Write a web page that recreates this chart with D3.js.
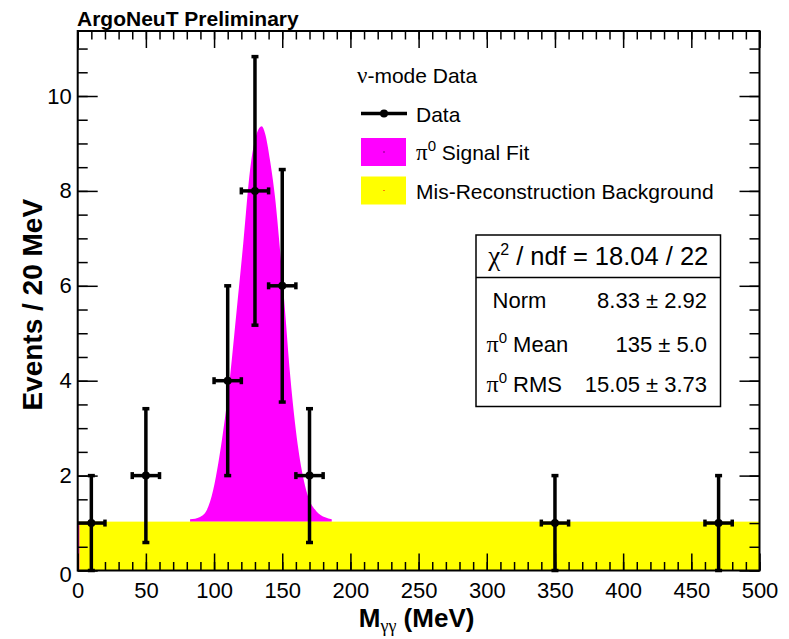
<!DOCTYPE html>
<html>
<head>
<meta charset="utf-8">
<script src="https://cdn.jsdelivr.net/npm/d3@7"></script>
<style>
  body { margin: 0; background: #fff; }
  svg { display: block; font-family: "Liberation Sans", Arial, Helvetica, sans-serif; }
</style>
</head>
<body>
<div id="chart"></div>
<script>
'use strict';

// ------------------------------------
// DATA
// ------------------------------------
const binCenters = [10, 50, 110, 130, 150, 170, 350, 470];
const counts     = [1, 2, 4, 8, 6, 2, 1, 1];
const errors     = [1, 1.41, 2, 2.83, 2.45, 1.41, 1, 1];
const binHalf    = 10;

const bgLevel = 1.03;   // mis-reconstruction background
const edgeSliver = 1.2; // thin magenta strip at the left edge

// signal fit curve (background + pi0 peak)
const fitX = [82.4, 89.7, 94.6, 99.4, 103.1, 106.8, 111.7, 116.6, 121.4, 126.4, 131.3, 134.9,
              137.4, 141.0, 144.7, 148.4, 152.0, 155.7, 159.4, 164.3, 169.1, 175.3, 181.4, 186.3];
const fitY = [1.08, 1.13, 1.27, 1.70, 2.26, 2.96, 4.08, 5.49, 6.89, 8.44, 9.21, 9.36,
              9.21, 8.65, 7.87, 6.75, 5.49, 4.15, 3.10, 2.12, 1.55, 1.24, 1.12, 1.08];

const xMajor = d3.range(0, 501, 50);
const xMinor = d3.range(0, 501, 10);
const yMajor = [0, 2, 4, 6, 8, 10];
const yMinor = d3.range(0, 11.3, 0.5);

const legendTitle = "-mode Data";
const legendItems = ["Data", "Signal Fit", "Mis-Reconstruction Background"];

const statNames  = ["\u00a0Norm", "Mean", "RMS"];
const statValues = ["8.33 \u00b1 2.92", "135 \u00b1 5.0", "15.05 \u00b1 3.73"];

// ------------------------------------
// SETUP
// ------------------------------------
const width = 789;
const height = 639;
const frame = { left: 77.7, right: 759.5, top: 31, bottom: 570.5 };

const x = d3.scaleLinear().domain([0, 500]).range([frame.left, frame.right]);
const y = d3.scaleLinear().domain([0, 11.37]).range([frame.bottom, frame.top]);

const svg = d3.select("#chart").append("svg")
  .attr("width", width)
  .attr("height", height);

svg.append("rect").attr("width", width).attr("height", height).attr("fill", "#fff");

// ------------------------------------
// FILLS
// ------------------------------------
const fitPts = fitX.map((v, i) => ({ x: v, y: fitY[i] }));

svg.append("path")
  .datum(fitPts)
  .attr("fill", "#ff00ff")
  .attr("d", d3.area()
    .x(d => x(d.x))
    .y0(y(bgLevel))
    .y1(d => y(d.y))
    .curve(d3.curveMonotoneX));

svg.append("rect")
  .attr("x", x(0))
  .attr("y", y(bgLevel))
  .attr("width", x(500) - x(0))
  .attr("height", y(0) - y(bgLevel))
  .attr("fill", "#ffff00");

svg.append("rect")
  .attr("x", x(0))
  .attr("y", y(bgLevel))
  .attr("width", x(edgeSliver) - x(0))
  .attr("height", y(0) - y(bgLevel))
  .attr("fill", "#ff00ff");

// ------------------------------------
// AXES (ticks on all four sides, pointing inward)
// ------------------------------------
function styleAxis(g) {
  g.select(".domain").remove();
  g.selectAll(".tick line").attr("stroke", "#000").attr("stroke-width", 1.5);
  g.selectAll("text").attr("fill", "#000").attr("font-size", 22);
}

svg.append("g")
  .attr("transform", `translate(0,${frame.bottom})`)
  .call(d3.axisBottom(x).tickValues(xMinor).tickSizeInner(-8.5).tickSizeOuter(0).tickFormat(""))
  .call(styleAxis);
svg.append("g")
  .attr("transform", `translate(0,${frame.bottom})`)
  .call(d3.axisBottom(x).tickValues(xMajor).tickSizeInner(-17).tickSizeOuter(0).tickPadding(12).tickFormat(d3.format("d")))
  .call(styleAxis);

svg.append("g")
  .attr("transform", `translate(0,${frame.top})`)
  .call(d3.axisTop(x).tickValues(xMinor).tickSizeInner(-8.5).tickSizeOuter(0).tickFormat(""))
  .call(styleAxis);
svg.append("g")
  .attr("transform", `translate(0,${frame.top})`)
  .call(d3.axisTop(x).tickValues(xMajor).tickSizeInner(-17).tickSizeOuter(0).tickFormat(""))
  .call(styleAxis);

svg.append("g")
  .attr("transform", `translate(${frame.left},0)`)
  .call(d3.axisLeft(y).tickValues(yMinor).tickSizeInner(-10).tickSizeOuter(0).tickFormat(""))
  .call(styleAxis);
const yAxisG = svg.append("g")
  .attr("transform", `translate(${frame.left},0)`)
  .call(d3.axisLeft(y).tickValues(yMajor).tickSizeInner(-20).tickSizeOuter(0).tickPadding(6).tickFormat(d3.format("d")))
  .call(styleAxis);
// ROOT nudges the zero label down a little
yAxisG.selectAll(".tick text").filter(d => d === 0).attr("dy", "0.52em");

svg.append("g")
  .attr("transform", `translate(${frame.right},0)`)
  .call(d3.axisRight(y).tickValues(yMinor).tickSizeInner(-10).tickSizeOuter(0).tickFormat(""))
  .call(styleAxis);
svg.append("g")
  .attr("transform", `translate(${frame.right},0)`)
  .call(d3.axisRight(y).tickValues(yMajor).tickSizeInner(-20).tickSizeOuter(0).tickFormat(""))
  .call(styleAxis);

// frame
svg.append("rect")
  .attr("x", frame.left)
  .attr("y", frame.top)
  .attr("width", frame.right - frame.left)
  .attr("height", frame.bottom - frame.top)
  .attr("fill", "none")
  .attr("stroke", "#000")
  .attr("stroke-width", 2);

// ------------------------------------
// DATA POINTS with error bars
// ------------------------------------
const pts = binCenters.map((c, i) => ({ c, n: counts[i], e: errors[i] }));
const gPts = svg.append("g").attr("stroke", "#000").attr("stroke-width", 3.5);
const cap = 3.5;

pts.forEach(d => {
  const cx = x(d.c), cy = y(d.n);
  const xl = Math.max(x(d.c - binHalf), frame.left), xr = x(d.c + binHalf);
  const yt = y(d.n + d.e), yb = y(Math.max(d.n - d.e, 0));
  gPts.append("line").attr("x1", cx).attr("x2", cx).attr("y1", yt).attr("y2", yb);
  gPts.append("line").attr("x1", xl).attr("x2", xr).attr("y1", cy).attr("y2", cy);
  // end caps
  gPts.append("line").attr("x1", cx - cap).attr("x2", cx + cap).attr("y1", yt).attr("y2", yt);
  gPts.append("line").attr("x1", cx - cap).attr("x2", cx + cap).attr("y1", yb).attr("y2", yb);
  if (x(d.c - binHalf) > frame.left)
    gPts.append("line").attr("x1", xl).attr("x2", xl).attr("y1", cy - cap).attr("y2", cy + cap);
  gPts.append("line").attr("x1", xr).attr("x2", xr).attr("y1", cy - cap).attr("y2", cy + cap);
  gPts.append("circle").attr("cx", cx).attr("cy", cy).attr("r", 4).attr("fill", "#000").attr("stroke", "none");
});

// ------------------------------------
// TITLES
// ------------------------------------
svg.append("text")
  .attr("x", 77)
  .attr("y", 25.5)
  .attr("font-size", 21)
  .attr("font-weight", "bold")
  .text("ArgoNeuT Preliminary");

const xt = svg.append("text")
  .attr("x", (frame.left + frame.right) / 2 - 2)
  .attr("y", 627)
  .attr("text-anchor", "middle")
  .attr("font-size", 26)
  .attr("font-weight", "bold");
xt.append("tspan").text("M");
xt.append("tspan").attr("font-size", 18).attr("font-weight", "normal").attr("font-family", "Liberation Serif, serif").attr("dy", 5).text("\u03b3\u03b3");
xt.append("tspan").attr("dy", -5).text(" (MeV)");

svg.append("text")
  .attr("transform", `translate(42,${(frame.top + frame.bottom) / 2 + 4}) rotate(-90)`)
  .attr("text-anchor", "middle")
  .attr("font-size", 28)
  .attr("font-weight", "bold")
  .text("Events / 20 MeV");

// ------------------------------------
// LEGEND
// ------------------------------------
const leg = svg.append("g").attr("font-size", 21);
const lt = leg.append("text").attr("x", 357).attr("y", 83);
lt.append("tspan").attr("font-family", "Liberation Serif, serif").attr("font-size", 23).text("\u03bd");
lt.append("tspan").text(legendTitle);

const rowY = [113.5, 152, 190.5];
// Data symbol
leg.append("line").attr("x1", 361).attr("x2", 407).attr("y1", rowY[0]).attr("y2", rowY[0])
  .attr("stroke", "#000").attr("stroke-width", 3.5);
leg.append("circle").attr("cx", 384).attr("cy", rowY[0]).attr("r", 4).attr("fill", "#000");
// fill boxes
[["#ff00ff", "#000"], ["#ffff00", "#ff0000"]].forEach(([fill, dot], i) => {
  leg.append("rect").attr("x", 361).attr("y", rowY[i + 1] - 14).attr("width", 45).attr("height", 28).attr("fill", fill);
  leg.append("rect").attr("x", 383.5).attr("y", rowY[i + 1] - 0.5).attr("width", 1).attr("height", 1).attr("fill", dot);
});
legendItems.forEach((t, i) => {
  const tx = leg.append("text").attr("x", 416).attr("y", rowY[i] + 8);
  if (i === 1) {
    tx.append("tspan").attr("font-family", "Liberation Serif, serif").attr("font-size", 23).text("\u03c0");
    tx.append("tspan").attr("font-size", 15).attr("dy", -9).text("0");
    tx.append("tspan").attr("dy", 9).text(" " + t);
  } else {
    tx.text(t);
  }
});

// ------------------------------------
// STATS BOX
// ------------------------------------
const box = { x0: 476, x1: 720.5, y0: 235, y1: 406.5, ySplit: 277.5 };
const gStat = svg.append("g");
gStat.append("rect")
  .attr("x", box.x0).attr("y", box.y0)
  .attr("width", box.x1 - box.x0).attr("height", box.y1 - box.y0)
  .attr("fill", "#fff").attr("stroke", "#000").attr("stroke-width", 1.5);
gStat.append("line")
  .attr("x1", box.x0).attr("x2", box.x1).attr("y1", box.ySplit).attr("y2", box.ySplit)
  .attr("stroke", "#000").attr("stroke-width", 1.5);

const st = gStat.append("text")
  .attr("x", (box.x0 + box.x1) / 2)
  .attr("y", 265)
  .attr("text-anchor", "middle")
  .attr("font-size", 25.5);
st.append("tspan").attr("font-family", "Liberation Serif, serif").attr("font-size", 27).text("\u03c7");
st.append("tspan").attr("font-size", 16).attr("dy", -10).text("2");
st.append("tspan").attr("dy", 10).text(" / ndf = 18.04 / 22");

const statY = [308, 351.5, 391.5];
statNames.forEach((n, i) => {
  const t = gStat.append("text").attr("x", 486.5).attr("y", statY[i]).attr("font-size", 22);
  if (i > 0) {
    t.append("tspan").attr("font-family", "Liberation Serif, serif").attr("font-size", 24).text("\u03c0");
    t.append("tspan").attr("font-size", 15).attr("dy", -9).text("0");
    t.append("tspan").attr("dy", 9).text(" " + n);
  } else {
    t.text(n);
  }
  gStat.append("text")
    .attr("x", 707).attr("y", statY[i])
    .attr("text-anchor", "end")
    .attr("font-size", 22)
    .text(statValues[i]);
});
</script>
</body>
</html>
